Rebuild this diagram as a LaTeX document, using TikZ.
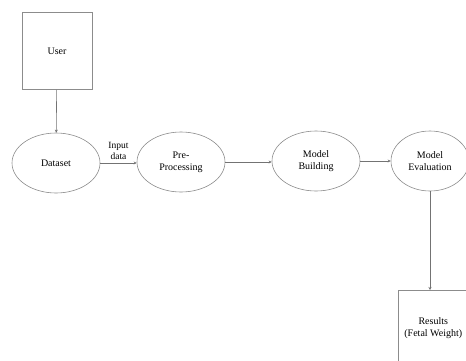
\documentclass[tikz,border=0pt]{standalone}
\usepackage{fontspec}
\setmainfont{Liberation Serif}
\usetikzlibrary{arrows.meta,shapes.geometric,positioning}

\tikzset{
  stage/.style={ellipse, draw=black!45, line width=0.6pt, align=center, minimum width=88pt, minimum height=60pt, inner sep=1pt},
  block/.style={rectangle, draw=black!45, line width=0.6pt, align=center},
  flow/.style={draw=black!55, line width=0.6pt, -{Stealth[length=3pt,width=3pt]}}
}

\begin{document}
\begin{tikzpicture}[x=1pt,y=-1pt,font=\fontsize{10}{12}\selectfont]
\useasboundingbox (0,0) rectangle (466,360);
\clip (0,0) rectangle (466,360);
\node[block, minimum width=70pt, minimum height=77pt] (user) at (57,51) {User};
\node[stage] (dataset) at (56,163) {Dataset};
\node[stage] (prep) at (181,162) {Pre-\\Processing};
\node[stage] (build) at (316,161) {Model\\Building};
\node[stage, minimum width=78pt] (eval) at (430,161) {Model\\Evaluation};
\node[block, minimum width=70pt, minimum height=76pt, anchor=north west] (res) at (398,290) {Results\\(Fetal Weight)};
%arrows
\draw[flow] (user) -- (dataset);
\draw[flow] (dataset.east) -- node[above, align=center, font=\fontsize{9.5}{11}\selectfont]{Input\\data} (dataset.east -| prep.west);
\draw[flow] (prep.east) -- (prep.east -| build.west);
\draw[flow] (build.east) -- (build.east -| eval.west);
\draw[flow] (eval) -- (eval |- res.north);
\end{tikzpicture}
\end{document}
